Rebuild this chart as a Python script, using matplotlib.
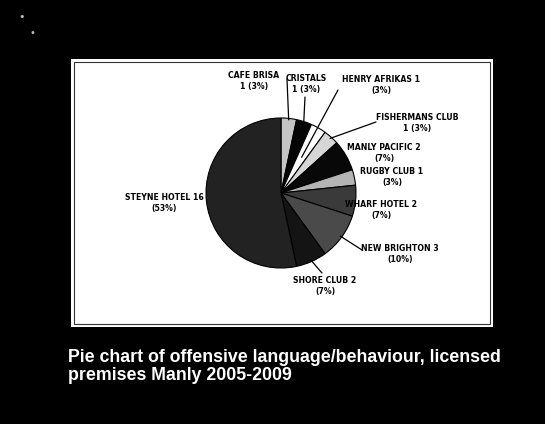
import numpy as np
import matplotlib
matplotlib.use("Agg")
from matplotlib import pyplot as plt
from matplotlib.patches import Rectangle

# data
venues = ['CAFE BRISA', 'CRISTALS', 'HENRY AFRIKAS', 'FISHERMANS CLUB', 'MANLY PACIFIC',
          'RUGBY CLUB', 'WHARF HOTEL', 'NEW BRIGHTON', 'SHORE CLUB', 'STEYNE HOTEL']
counts = [1, 1, 1, 1, 2, 1, 2, 3, 2, 16]
pcts = [3, 3, 3, 3, 7, 3, 7, 10, 7, 53]
caption = ['Pie chart of offensive language/behaviour, licensed',
           'premises Manly 2005-2009']

# grey tones of the scanned slide
shades = ['#c4c4c4', '#050505', '#ffffff', '#d6d6d6', '#080808',
          '#b4b4b4', '#3a3a3a', '#4a4a4a', '#141414', '#222222']

W, H = 545, 424
fig = plt.figure(figsize=(W / 100, H / 100), dpi=100, facecolor='black')

def fx(px):
    return px / W

def fy(py):
    return 1 - py / H

# white slide box (behind the axes)
fig.patches.append(Rectangle((fx(71), fy(327)), fx(493) - fx(71), fy(59) - fy(327),
                             transform=fig.transFigure, facecolor='white',
                             edgecolor='none', zorder=-10))
fig.patches.append(Rectangle((fx(74), fy(324)), fx(490) - fx(74), fy(62) - fy(324),
                             transform=fig.transFigure, facecolor='none',
                             edgecolor='#333333', lw=0.8, zorder=-9))

# pie axes: centre (281,193) px, radius 75 px
cx, cy, r = 281, 193, 75
ax = fig.add_axes([fx(71), fy(327), fx(493) - fx(71), fy(59) - fy(327)])

wedges, _ = ax.pie(counts, colors=shades, startangle=90, counterclock=False,
                   wedgeprops=dict(edgecolor='black', linewidth=0.8))
# pie() resets the limits, so set them afterwards
ax.set_aspect('auto')
ax.set_xlim((71 - cx) / r, (493 - cx) / r)
ax.set_ylim(-(327 - cy) / r, (cy - 59) / r)
ax.axis('off')

def to_data(px, py):
    return (px - cx) / r, (cy - py) / r

# label anchors in slide pixels (centre of the two text lines)
label_px = [(254, 81), (306, 84), (381, 85), (417, 123), (384, 153),
            (392, 177), (381, 210), (400, 254), (325, 286), (164, 203)]
# where each leader line leaves its label (None = no leader)
leader_px = [(287, 79), (305, 97), (338, 90), (376, 122), None,
             None, None, (362, 250), (322, 273), None]
count_below = ('CAFE BRISA', 'CRISTALS', 'FISHERMANS CLUB')
label_font = dict(family='DejaVu Sans', fontstretch='condensed', fontsize=6.2,
                  fontweight='bold', color='black')

for i, w in enumerate(wedges):
    if venues[i] in count_below:
        txt = f'{venues[i]}\n{counts[i]} ({pcts[i]}%)'
    else:
        txt = f'{venues[i]} {counts[i]}\n({pcts[i]}%)'
    x, y = to_data(*label_px[i])
    if leader_px[i] is not None:
        ang = np.deg2rad((w.theta1 + w.theta2) / 2)
        reach = 0.55 if venues[i] == 'HENRY AFRIKAS' else 0.98
        ax.annotate('', xy=(reach * np.cos(ang), reach * np.sin(ang)),
                    xytext=to_data(*leader_px[i]),
                    arrowprops=dict(arrowstyle='-', color='black', lw=0.9,
                                    shrinkA=0, shrinkB=0),
                    annotation_clip=False)
    ax.text(x, y, txt, ha='center', va='center', linespacing=1.3, **label_font)

# caption under the slide box
for k, line in enumerate(caption):
    fig.text(fx(68), fy(357 + 18 * k), line, color='white', fontsize=12.75,
             family=['Liberation Sans', 'DejaVu Sans'], fontweight='bold',
             ha='left', va='center')

# faint header marks of the scanned slide
fig.text(fx(22), fy(17), '\u2022', color='#bbbbbb', fontsize=8, ha='center', va='center')
fig.text(fx(32), fy(33), '\u2022', color='#bbbbbb', fontsize=7, ha='center', va='center')

fig.savefig('out.png', dpi=100, facecolor='black')
